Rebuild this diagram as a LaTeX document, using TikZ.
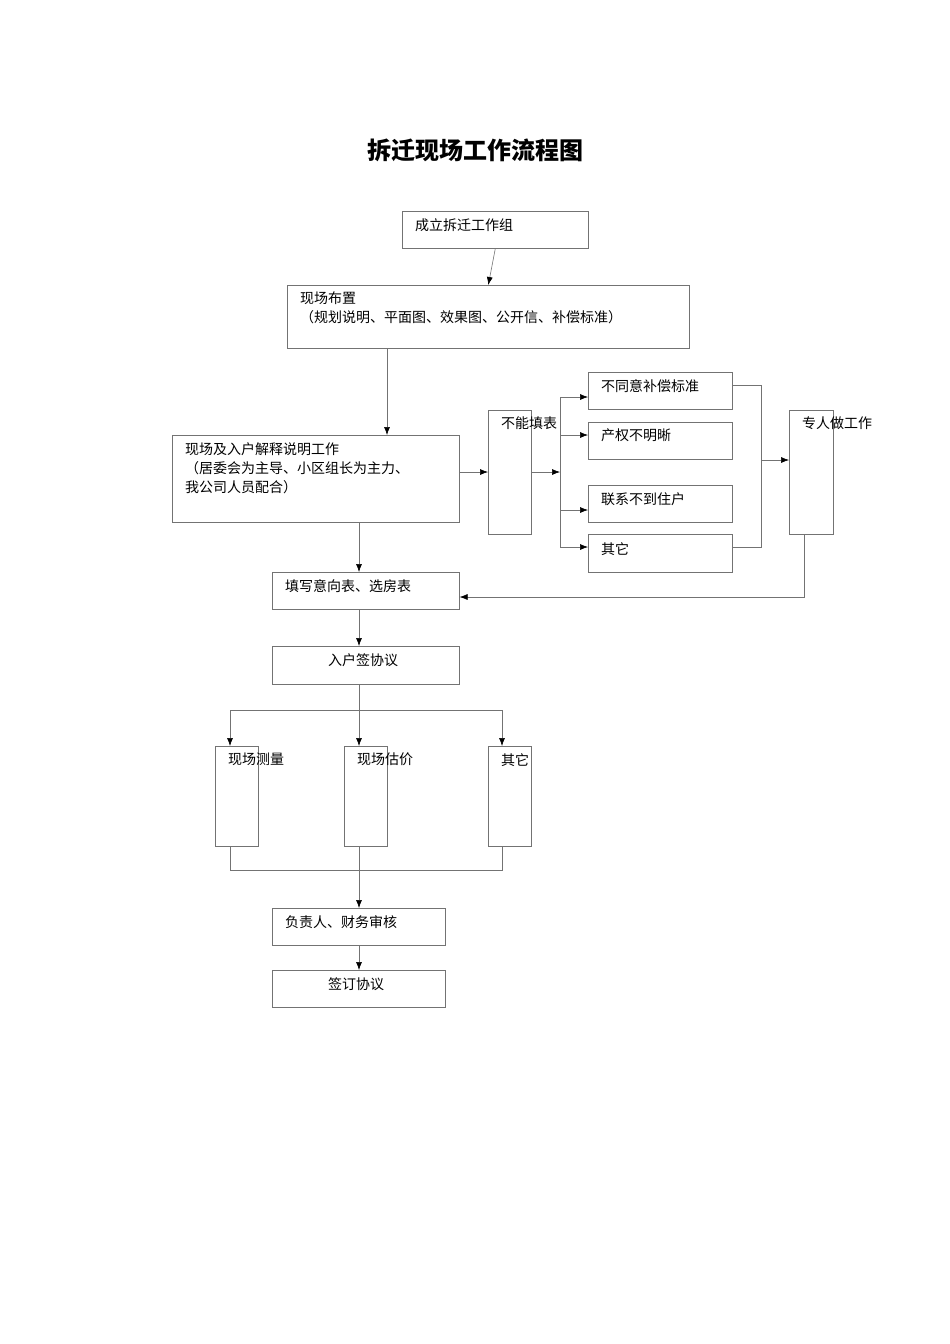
\documentclass[tikz,border=0pt]{standalone}
\usepackage{fontspec}
\setmainfont{Liberation Serif}
\newfontfamily\cjk{Noto Sans CJK SC}
\usetikzlibrary{arrows.meta,calc}
\begin{document}
\begin{tikzpicture}[x=1pt,y=-1pt,
  bx/.style={draw=black!55,line width=0.6pt,anchor=north west,inner sep=0pt},
  tx/.style={anchor=north west,inner sep=0pt,font=\cjk\fontsize{14}{19}\selectfont,align=left},
  ln/.style={draw=black!55,line width=0.6pt},
  ar/.style={ln,-{Latex[length=8pt,width=6pt,black]}}]
\useasboundingbox (0,0) rectangle (950,1344);
\node[font=\cjk\bfseries\fontsize{24}{28}\selectfont] (title) at (475,150) {拆迁现场工作流程图};
% boxes
\node[bx,minimum width=186,minimum height=37] (b1) at (402,211) {};
\node[tx] at (415,218) {成立拆迁工作组};
\node[bx,minimum width=402,minimum height=63] (b2) at (287,285) {};
\node[tx] at (300,292) {现场布置\\（规划说明、平面图、效果图、公开信、补偿标准）};
\node[bx,minimum width=287,minimum height=87] (b3) at (172,435) {};
\node[tx] at (185,442) {现场及入户解释说明工作\\（居委会为主导、小区组长为主力、\\我公司人员配合）};
\node[bx,minimum width=43,minimum height=124] (c) at (488,410) {};
\node[tx] at (501,417) {不能填表};
\node[bx,minimum width=144,minimum height=37] (r1) at (588,372) {};
\node[tx] at (601,379) {不同意补偿标准};
\node[bx,minimum width=144,minimum height=37] (r2) at (588,422) {};
\node[tx] at (601,429) {产权不明晰};
\node[bx,minimum width=144,minimum height=37] (r3) at (588,485) {};
\node[tx] at (601,492) {联系不到住户};
\node[bx,minimum width=144,minimum height=38] (r4) at (588,534) {};
\node[tx] at (601,542) {其它};
\node[bx,minimum width=44,minimum height=124] (z) at (789,410) {};
\node[tx] at (802,417) {专人做工作};
\node[bx,minimum width=187,minimum height=37] (f) at (272,572) {};
\node[tx] at (285,579) {填写意向表、选房表};
\node[bx,minimum width=187,minimum height=38] (s) at (272,646) {};
\node[tx] at (328,653) {入户签协议};
\node[bx,minimum width=43,minimum height=100] (m1) at (215,746) {};
\node[tx] at (228,753) {现场测量};
\node[bx,minimum width=43,minimum height=100] (m2) at (344,746) {};
\node[tx] at (357,753) {现场估价};
\node[bx,minimum width=43,minimum height=100] (m3) at (488,746) {};
\node[tx] at (501,753) {其它};
\node[bx,minimum width=173,minimum height=37] (h) at (272,908) {};
\node[tx] at (285,915) {负责人、财务审核};
\node[bx,minimum width=173,minimum height=37] (q) at (272,970) {};
\node[tx] at (328,977) {签订协议};
% connectors
\draw[ar] (b1.south) -- (b2.north);
\draw[ar] (387,348) -- (387,435);
\draw[ar] (b3.east |- 0,472) -- (c.west |- 0,472);
\draw[ar] (c.east |- 0,472) -- (560,472);
\draw[ln] (560,397) -- (560,547);
\foreach \r/\y in {r1/397,r2/435,r3/510,r4/547} \draw[ar] (560,\y) -- (\r.west |- 0,\y);
\draw[ln] (r1.east |- 0,385) -- (761,385) -- (761,547) -- (r4.east |- 0,547);
\draw[ar] (761,460) -- (z.west |- 0,460);
\draw[ar] (804,534) -- (804,597) -- (f.east |- 0,597);
\draw[ar] (359,522) -- (f.north -| 359,0);
\draw[ar] (359,609) -- (s.north -| 359,0);
\draw[ln] (359,684) -- (359,710);
\draw[ln] (230,710) -- (502,710);
\draw[ar] (230,710) -- (m1.north -| 230,0);
\draw[ar] (359,710) -- (m2.north -| 359,0);
\draw[ar] (502,710) -- (m3.north -| 502,0);
\draw[ln] (230,846) -- (230,870) -- (502,870) -- (502,846);
\draw[ln] (359,846) -- (359,870);
\draw[ar] (359,870) -- (h.north -| 359,0);
\draw[ar] (359,945) -- (q.north -| 359,0);
\end{tikzpicture}
\end{document}
